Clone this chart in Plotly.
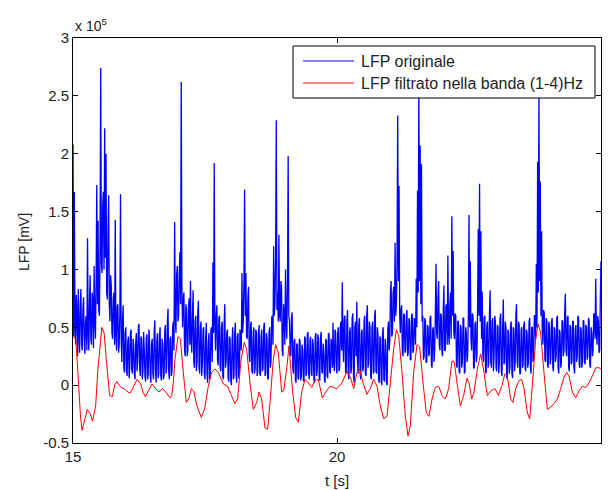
import numpy as np
import plotly.graph_objects as go

# Raw LFP trace (units of 1e5), sampled every 12.5 ms from t = 15 s; one row per 0.5 s
T_START = 15.0
DT_RAW = 0.0125
lfp_raw = [
    2.08, 0.42, 1.67, 0.50, 0.35, 0.78, 0.62, 0.25, 0.83, 0.45,
    0.28, 0.70, 0.83, 0.35, 0.30, 0.65, 0.76, 0.40, 0.27, 0.55,
    0.60, 0.30, 1.27, 0.45, 0.30, 0.72, 0.95, 0.40, 0.35, 0.80,
    0.72, 0.32, 1.03, 0.55, 0.40, 0.90, 1.73, 0.70, 1.42, 0.65,
    # 15.5 s
    0.60, 1.20, 2.74, 1.05, 0.97, 1.55, 1.67, 1.00, 2.22, 1.10,
    2.00, 0.80, 0.74, 1.30, 1.64, 0.70, 0.55, 0.95, 0.86, 0.45,
    0.40, 0.75, 0.80, 0.35, 1.43, 0.45, 0.30, 0.68, 0.70, 0.28,
    0.35, 0.62, 1.65, 0.40, 0.20, 0.55, 0.69, 0.15, 0.11, 0.45,
    # 16.0 s
    0.50, 0.12, 0.08, 0.38, 0.42, 0.06, 0.15, 0.45, 0.48, 0.14,
    0.10, 0.40, 0.35, 0.10, 0.05, 0.36, 0.45, 0.12, 0.20, 0.50,
    0.53, 0.15, 0.08, 0.42, 0.40, 0.05, 0.12, 0.46, 0.30, 0.08,
    0.03, 0.40, 0.44, 0.05, 0.10, 0.48, 0.38, 0.08, 0.02, 0.35,
    # 16.5 s
    0.40, 0.10, 0.05, 0.45, 0.56, 0.12, 0.02, 0.38, 0.45, 0.06,
    0.10, 0.42, 0.50, 0.08, 0.04, 0.40, 0.35, 0.05, 0.08, 0.47,
    0.52, 0.10, 0.15, 0.55, 0.66, 0.12, 0.05, 0.40, 0.42, 0.08,
    0.12, 0.50, 0.55, 0.30, 1.41, 0.60, 0.45, 0.95, 1.03, 0.55,
    # 17.0 s
    0.60, 0.98, 1.15, 0.70, 2.62, 0.85, 0.50, 0.72, 0.80, 0.30,
    0.25, 0.70, 0.65, 0.25, 0.30, 0.68, 0.75, 0.35, 0.90, 0.40,
    0.28, 0.60, 0.82, 0.20, 0.15, 0.55, 0.60, 0.12, 0.20, 0.62,
    0.73, 0.15, 0.10, 0.50, 0.55, 0.08, 0.18, 0.48, 0.50, 0.10,
    # 17.5 s
    0.05, 0.40, 0.54, 0.10, 0.02, 0.35, 0.45, 0.05, 0.10, 0.48,
    0.50, 0.20, 1.06, 0.45, 1.92, 0.55, 0.30, 0.60, 0.69, 0.22,
    0.17, 0.58, 0.60, 0.15, 0.12, 0.50, 0.55, 0.08, 0.05, 0.52,
    0.70, 0.15, 0.20, 0.45, 0.48, 0.06, 0.03, 0.42, 0.40, 0.05,
    # 18.0 s
    0.00, 0.38, 0.50, 0.05, 0.08, 0.45, 0.54, 0.10, 0.02, 0.42,
    0.45, 0.06, 0.10, 0.48, 0.40, 0.30, 0.97, 0.45, 0.55, 0.90,
    1.69, 0.60, 0.97, 0.42, 0.40, 0.75, 0.85, 0.25, 0.20, 0.52,
    0.55, 0.12, 0.10, 0.45, 0.50, 0.10, 0.15, 0.48, 0.45, 0.08,
    # 18.5 s
    0.12, 0.45, 0.52, 0.10, 0.08, 0.42, 0.48, 0.12, 0.15, 0.50,
    0.54, 0.08, 0.10, 0.45, 0.40, 0.06, 0.05, 0.46, 0.50, 0.15,
    0.20, 0.58, 0.60, 0.35, 1.20, 0.60, 0.70, 1.10, 2.29, 0.65,
    0.80, 0.55, 1.30, 0.60, 0.55, 0.90, 0.85, 0.30, 0.25, 0.70,
    # 19.0 s
    0.60, 0.35, 1.00, 0.55, 0.40, 0.90, 1.98, 0.60, 0.55, 0.30,
    0.25, 0.58, 0.63, 0.15, 0.10, 0.38, 0.40, 0.05, 0.02, 0.36,
    0.35, 0.06, 0.05, 0.40, 0.38, 0.04, 0.08, 0.35, 0.30, 0.05,
    0.03, 0.42, 0.40, 0.08, 0.10, 0.44, 0.46, 0.10, 0.05, 0.38,
    # 19.5 s
    0.42, 0.10, 0.08, 0.40, 0.35, 0.05, 0.02, 0.42, 0.45, 0.08,
    0.12, 0.44, 0.40, 0.06, 0.04, 0.41, 0.46, 0.12, 0.10, 0.36,
    0.30, 0.05, 0.02, 0.40, 0.38, 0.08, 0.06, 0.45, 0.44, 0.12,
    0.10, 0.40, 0.35, 0.15, 0.54, 0.20, 0.12, 0.48, 0.45, 0.15,
    # 20.0 s
    0.10, 0.45, 0.50, 0.12, 0.15, 0.50, 0.55, 0.30, 0.89, 0.35,
    0.20, 0.58, 0.60, 0.12, 0.10, 0.55, 0.65, 0.10, 0.05, 0.45,
    0.50, 0.10, 0.15, 0.58, 0.62, 0.08, 0.02, 0.50, 0.55, 0.25,
    0.72, 0.20, 0.10, 0.52, 0.58, 0.10, 0.05, 0.45, 0.48, 0.12,
    # 20.5 s
    0.15, 0.55, 0.60, 0.10, 0.08, 0.60, 0.69, 0.15, 0.20, 0.55,
    0.50, 0.08, 0.05, 0.50, 0.55, 0.10, 0.12, 0.60, 0.65, 0.12,
    0.10, 0.50, 0.45, 0.05, 0.02, 0.42, 0.40, 0.03, 0.00, 0.45,
    0.50, 0.05, 0.03, 0.40, 0.35, 0.02, 0.00, 0.48, 0.55, 0.30,
    # 21.0 s
    0.40, 0.80, 0.90, 0.42, 0.45, 0.80, 0.85, 0.55, 1.23, 0.60,
    0.70, 1.10, 2.33, 0.90, 1.72, 0.60, 0.45, 0.65, 0.69, 0.28,
    0.25, 0.62, 0.60, 0.28, 0.30, 0.60, 0.65, 0.25, 0.28, 0.58,
    0.55, 0.22, 0.22, 0.60, 0.62, 0.28, 0.30, 0.58, 0.55, 0.35,
    # 21.5 s
    0.92, 0.50, 1.68, 0.80, 2.60, 0.90, 2.07, 0.70, 1.91, 0.55,
    0.60, 0.22, 0.25, 0.58, 0.55, 0.20, 0.20, 0.52, 0.50, 0.25,
    0.28, 0.58, 0.60, 0.18, 0.15, 0.48, 0.50, 0.20, 0.30, 0.60,
    1.05, 0.45, 0.40, 0.75, 0.90, 0.35, 0.30, 0.62, 0.60, 0.28,
    # 22.0 s
    0.25, 0.65, 0.86, 0.30, 0.30, 0.68, 0.70, 0.35, 1.12, 0.45,
    0.35, 0.70, 0.80, 0.40, 1.46, 0.60, 1.16, 0.45, 0.40, 0.62,
    0.60, 0.18, 0.15, 0.55, 0.55, 0.12, 0.10, 0.52, 0.50, 0.15,
    0.20, 0.58, 0.58, 0.10, 0.12, 0.50, 0.45, 0.20, 0.25, 0.60,
    # 22.5 s
    1.47, 0.50, 1.07, 0.40, 0.30, 0.62, 0.60, 0.15, 0.15, 0.52,
    0.55, 0.20, 0.25, 0.70, 1.35, 0.60, 1.74, 0.55, 1.33, 0.40,
    0.81, 0.25, 0.20, 0.58, 0.60, 0.12, 0.10, 0.52, 0.55, 0.15,
    0.20, 0.62, 0.82, 0.20, 0.15, 0.55, 0.58, 0.12, 0.25, 0.60,
    # 23.0 s
    0.55, 0.15, 0.12, 0.52, 0.50, 0.10, 0.20, 0.58, 0.62, 0.12,
    0.08, 0.50, 0.74, 0.18, 0.20, 0.55, 0.50, 0.08, 0.05, 0.48,
    0.45, 0.10, 0.15, 0.52, 0.55, 0.10, 0.06, 0.50, 0.48, 0.12,
    0.20, 0.60, 0.70, 0.20, 0.15, 0.55, 0.52, 0.10, 0.10, 0.48,
    # 23.5 s
    0.50, 0.15, 0.18, 0.52, 0.55, 0.15, 0.12, 0.48, 0.45, 0.15,
    0.20, 0.55, 0.58, 0.15, 0.10, 0.50, 0.50, 0.20, 0.25, 0.60,
    0.60, 0.40, 1.05, 0.50, 1.93, 0.80, 2.55, 0.90, 1.76, 0.60,
    1.33, 0.45, 0.35, 0.65, 0.62, 0.22, 0.20, 0.58, 0.55, 0.18,
    # 24.0 s
    0.15, 0.55, 0.50, 0.18, 0.22, 0.55, 0.58, 0.15, 0.12, 0.50,
    0.48, 0.20, 0.25, 0.58, 0.60, 0.15, 0.10, 0.48, 0.45, 0.15,
    0.20, 0.56, 0.55, 0.25, 0.30, 0.62, 0.79, 0.30, 0.25, 0.58,
    0.60, 0.15, 0.12, 0.52, 0.50, 0.18, 0.20, 0.55, 0.55, 0.15,
    # 24.5 s
    0.10, 0.48, 0.52, 0.20, 0.25, 0.60, 0.58, 0.18, 0.15, 0.50,
    0.48, 0.15, 0.20, 0.56, 0.55, 0.20, 0.18, 0.52, 0.50, 0.22,
    0.25, 0.58, 0.56, 0.18, 0.15, 0.50, 0.45, 0.25, 0.30, 0.62,
    0.60, 0.40, 0.92, 0.45, 0.35, 0.60, 0.55, 0.28, 0.30, 0.75,
    # 25.0 s
    1.07,
]
t_raw = T_START + DT_RAW * np.arange(len(lfp_raw))

# Delta-band (1-4 Hz) filtered trace (units of 1e5)
filt_t = [
    15.000, 15.051, 15.100, 15.139, 15.170, 15.221, 15.270, 15.328, 15.370, 15.429,
    15.473, 15.500, 15.545, 15.590, 15.631, 15.694, 15.745, 15.789, 15.830, 15.890,
    15.947, 15.970, 16.042, 16.080, 16.130, 16.210, 16.282, 16.326, 16.370, 16.439,
    16.495, 16.566, 16.629, 16.700, 16.755, 16.840, 16.869, 16.900, 16.930, 16.989,
    17.033, 17.083, 17.146, 17.197, 17.241, 17.285, 17.348, 17.431, 17.494, 17.563,
    17.626, 17.689, 17.753, 17.847, 17.929, 17.992, 18.068, 18.119, 18.182, 18.245,
    18.289, 18.352, 18.415, 18.479, 18.523, 18.573, 18.636, 18.687, 18.731, 18.794,
    18.838, 18.889, 18.952, 18.990, 19.047, 19.091, 19.154, 19.217, 19.268, 19.331,
    19.394, 19.457, 19.520, 19.583, 19.646, 19.722, 19.785, 19.867, 19.931, 20.000,
    20.095, 20.189, 20.253, 20.316, 20.379, 20.429, 20.492, 20.568, 20.631, 20.694,
    20.758, 20.821, 20.884, 20.947, 21.010, 21.073, 21.124, 21.168, 21.231, 21.294,
    21.345, 21.389, 21.452, 21.515, 21.566, 21.629, 21.692, 21.742, 21.799, 21.862,
    21.926, 21.989, 22.052, 22.115, 22.178, 22.222, 22.273, 22.336, 22.399, 22.462,
    22.500, 22.551, 22.595, 22.658, 22.721, 22.784, 22.847, 22.910, 22.992, 23.056,
    23.119, 23.182, 23.226, 23.289, 23.333, 23.384, 23.447, 23.497, 23.542, 23.605,
    23.649, 23.699, 23.763, 23.807, 23.857, 23.920, 23.984, 24.047, 24.110, 24.173,
    24.236, 24.299, 24.350, 24.394, 24.457, 24.520, 24.583, 24.646, 24.710, 24.773,
    24.836, 24.899, 24.962, 25.000,
]
lfp_filt = [
    0.42, 0.40, 0.06, -0.25, -0.39, -0.30, -0.21, -0.25, -0.31, -0.18,
    0.15, 0.27, 0.50, 0.45, 0.22, -0.09, -0.10, 0.00, 0.03, -0.01,
    -0.03, -0.03, -0.06, -0.07, -0.03, 0.05, 0.01, -0.06, -0.10, -0.04,
    0.01, -0.03, -0.06, -0.03, -0.06, -0.11, -0.09, 0.02, 0.22, 0.42,
    0.40, 0.14, -0.15, -0.11, -0.03, -0.05, -0.18, -0.28, -0.20, -0.01,
    0.11, 0.14, 0.11, 0.01, -0.01, -0.08, -0.16, -0.12, 0.22, 0.37,
    0.31, 0.02, -0.21, -0.15, -0.06, -0.12, -0.37, -0.38, -0.15, 0.22,
    0.35, 0.28, -0.06, -0.05, 0.14, 0.34, -0.03, -0.28, -0.32, -0.06,
    0.05, 0.02, -0.02, 0.04, 0.05, -0.11, -0.06, -0.01, -0.02, -0.03,
    0.02, 0.12, 0.07, -0.03, 0.11, 0.14, 0.02, -0.08, -0.03, 0.05,
    -0.01, -0.18, -0.29, -0.27, 0.02, 0.31, 0.48, 0.43, 0.11, -0.27,
    -0.44, -0.35, 0.11, 0.35, 0.33, 0.02, -0.24, -0.27, -0.12, -0.02,
    -0.01, -0.09, -0.12, -0.03, 0.21, 0.20, 0.02, -0.18, -0.09, 0.06,
    0.02, -0.12, -0.06, 0.14, 0.27, 0.11, -0.09, -0.05, -0.03, -0.09,
    -0.01, 0.10, 0.08, -0.12, -0.15, -0.03, 0.04, 0.05, -0.03, -0.24,
    -0.29, -0.01, 0.40, 0.53, 0.45, 0.11, -0.21, -0.19, -0.16, -0.12,
    -0.03, 0.07, 0.11, 0.08, -0.06, -0.11, -0.05, -0.01, -0.02, 0.02,
    0.08, 0.15, 0.15, 0.14,
]

series_names = ["LFP originale", "LFP filtrato nella banda (1-4)Hz"]
series_colors = ["#0000ff", "#ff0000"]

x_ticks = [15, 20, 25]
y_ticks = [-0.5, 0, 0.5, 1, 1.5, 2, 2.5, 3]
y_tick_text = ["-0.5", "0", "0.5", "1", "1.5", "2", "2.5", "3"]

FONT = "Liberation Sans, Arial, Helvetica, sans-serif"
TEXT_COLOR = "#222222"

# Figure geometry (pixels)
W, H = 608, 490
ML, MR, MT, MB = 73, 7, 38, 47
PW, PH = W - ML - MR, H - MT - MB


def px(x):
    """Horizontal pixel position -> paper fraction of the plot area."""
    return (x - ML) / PW


def py(y):
    """Vertical pixel position -> paper fraction of the plot area."""
    return (H - MB - y) / PH


fig = go.Figure()
fig.add_trace(go.Scatter(
    x=t_raw, y=lfp_raw, mode="lines", name=series_names[0],
    line=dict(color=series_colors[0], width=1.3, simplify=False),
))
fig.add_trace(go.Scatter(
    x=filt_t, y=lfp_filt, mode="lines", name=series_names[1],
    line=dict(color=series_colors[1], width=1, simplify=False),
))

axis_common = dict(
    showline=True, linecolor="#000000", linewidth=1, mirror="ticks",
    ticks="inside", ticklen=5, tickcolor="#000000", tickwidth=1,
    showgrid=False, zeroline=False,
    tickfont=dict(family=FONT, size=15, color=TEXT_COLOR),
)

# Boxed legend in the upper right of the axes
box = dict(x0=293, x1=595, y0=46, y1=98)
entry_y = [61, 83]
line_x = (303, 354)
text_x = 359

shapes = [dict(
    type="rect", xref="paper", yref="paper", layer="above",
    x0=px(box["x0"]), x1=px(box["x1"]), y0=py(box["y1"]), y1=py(box["y0"]),
    fillcolor="#ffffff", line=dict(color="#000000", width=1),
)]
annotations = []
for name, color, ey in zip(series_names, series_colors, entry_y):
    shapes.append(dict(
        type="line", xref="paper", yref="paper", layer="above",
        x0=px(line_x[0]), x1=px(line_x[1]), y0=py(ey), y1=py(ey),
        line=dict(color=color, width=1),
    ))
    annotations.append(dict(
        xref="paper", yref="paper", x=px(text_x), y=py(ey),
        xanchor="left", yanchor="middle", text=name, showarrow=False,
        font=dict(family=FONT, size=16, color=TEXT_COLOR),
    ))

# Axis titles and the common exponent of the y axis
annotations += [
    dict(xref="paper", yref="paper", x=px(337), y=py(480),
         xanchor="center", yanchor="middle", text="t [s]", showarrow=False,
         font=dict(family=FONT, size=15, color=TEXT_COLOR)),
    dict(xref="paper", yref="paper", x=px(24), y=py(242),
         xanchor="center", yanchor="middle", text="LFP [mV]", textangle=-90,
         showarrow=False, font=dict(family=FONT, size=14, color=TEXT_COLOR)),
    dict(xref="paper", yref="paper", x=0, y=1, xanchor="left", yanchor="bottom",
         text="x 10<sup>5</sup>", showarrow=False, yshift=2,
         font=dict(family=FONT, size=14, color=TEXT_COLOR)),
]

fig.update_layout(
    width=W, height=H,
    margin=dict(l=ML, r=MR, t=MT, b=MB),
    paper_bgcolor="#ffffff", plot_bgcolor="#ffffff",
    font=dict(family=FONT, size=14, color=TEXT_COLOR),
    xaxis=dict(range=[15, 25], tickvals=x_ticks, **axis_common),
    yaxis=dict(range=[-0.5, 3], tickvals=y_ticks, ticktext=y_tick_text, **axis_common),
    showlegend=False,
    shapes=shapes,
    annotations=annotations,
)

fig.write_html("out.html")
